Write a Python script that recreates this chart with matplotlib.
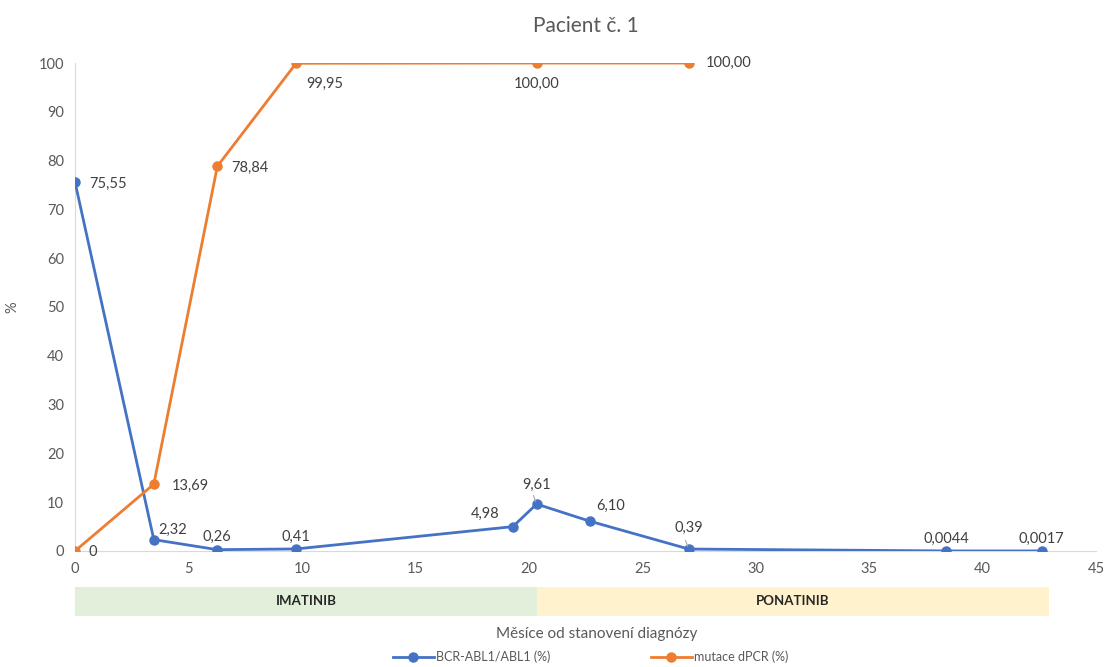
import numpy as np
import matplotlib.pyplot as plt

plt.rcParams['font.family'] = ['Lato', 'DejaVu Sans']

# months since diagnosis and measured values
months_bcr = [0, 3.47, 6.27, 9.74, 19.29, 20.34, 22.68, 27.04, 38.39, 42.6]
bcr_abl = [75.55, 2.32, 0.26, 0.41, 4.98, 9.61, 6.10, 0.39, 0.0044, 0.0017]
bcr_dec = [2, 2, 2, 2, 2, 2, 2, 2, 4, 4]

months_mut = [0, 3.47, 6.27, 9.74, 20.34, 27.04]
mutace = [0, 13.69, 78.84, 99.95, 100.00, 100.00]
mut_dec = [0, 2, 2, 2, 2, 2]

# treatment periods (start, end, name, colour)
therapy = [(0, 20.34, 'IMATINIB', '#e2efda'),
           (20.34, 42.9, 'PONATINIB', '#fff2cc')]

blue = '#4472c4'
orange = '#ed7d31'
grey = '#595959'

# label offsets in points
bcr_off = [(10, -1), (3, 7), (0, 9), (0, 9), (-10, 9), (0, 14), (5, 11), (0, 15), (0, 9), (0, 9)]
bcr_ha = ['left', 'left', 'center', 'center', 'right', 'center', 'left', 'center', 'center', 'center']
bcr_lead = [False, False, False, False, False, True, False, True, False, False]
mut_off = [(10, -1), (13, -1), (10, -1), (7, -15), (0, -15), (12, 0)]
mut_ha = ['left', 'left', 'left', 'left', 'center', 'left']


def fmt(v, d):
    return ('{:.%df}' % d).format(v).replace('.', ',')


fig = plt.figure(figsize=(11.04, 6.67), dpi=100)
ax = fig.add_axes([0.068, 0.174, 0.925, 0.7315])

ax.plot(months_bcr, bcr_abl, color=blue, lw=2, marker='o', ms=6.5, label='BCR-ABL1/ABL1 (%)', zorder=3)
ax.plot(months_mut, mutace, color=orange, lw=2, marker='o', ms=6.5, label='mutace dPCR (%)', zorder=3)

for x, y, d, o, ha, lead in zip(months_bcr, bcr_abl, bcr_dec, bcr_off, bcr_ha, bcr_lead):
    ax.annotate(fmt(y, d), (x, y), xytext=o, textcoords='offset points', ha=ha, va='center',
                fontsize=10.5, color='#404040')
    if lead:
        # short leader line from the point towards its label
        ax.annotate('', (x, y), xytext=(-3, 8), textcoords='offset points',
                    arrowprops=dict(arrowstyle='-', color='#a6a6a6', lw=0.8))
for x, y, d, o, ha in zip(months_mut, mutace, mut_dec, mut_off, mut_ha):
    ax.annotate(fmt(y, d), (x, y), xytext=o, textcoords='offset points', ha=ha, va='center',
                fontsize=10.5, color='#404040')

ax.set_xlim(0, 45)
ax.set_ylim(0, 100)
ax.set_xticks(np.arange(0, 46, 5))
ax.set_yticks(np.arange(0, 101, 10))
ax.tick_params(length=0, labelsize=10.5, colors=grey, pad=8)
for s in ['top', 'right']:
    ax.spines[s].set_visible(False)
for s in ['left', 'bottom']:
    ax.spines[s].set_color('#d9d9d9')
ax.set_ylabel('%', color=grey, fontsize=10.5)
ax.yaxis.set_label_coords(-0.055, 0.5)
ax.set_title('Pacient č. 1', fontsize=15, color=grey, pad=22)

# treatment band under the axis
band = fig.add_axes([0.068, 0.0765, 0.925, 0.0435])
band.set_xlim(0, 45)
band.set_ylim(0, 1)
for start, end, name, col in therapy:
    band.axvspan(start, end, color=col, lw=0)
    band.text((start + end) / 2, 0.5, name, ha='center', va='center', fontsize=9.5,
              fontweight='bold', color='#262626')
band.axis('off')

fig.text(0.5405, 0.049, 'Měsíce od stanovení diagnózy', ha='center', va='center', fontsize=11, color=grey)
fig.legend(loc='center', bbox_to_anchor=(0.535, 0.015), ncol=2, frameon=False, fontsize=9,
           labelcolor=grey, handlelength=3.3, columnspacing=8, handletextpad=0.2)

fig.savefig('out.png', dpi=100)
